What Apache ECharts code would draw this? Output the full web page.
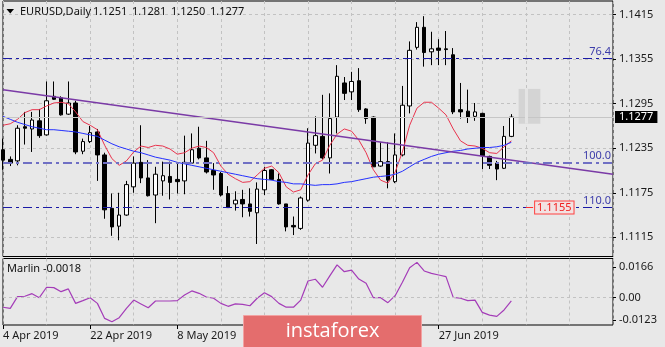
<!DOCTYPE html>
<html>
<head>
<meta charset="utf-8">
<script src="https://cdn.jsdelivr.net/npm/echarts@6/dist/echarts.min.js"></script>
<style>
  html, body { margin: 0; padding: 0; background: #e8e8e8; }
  #chart { width: 665px; height: 347px; }
</style>
</head>
<body>
<div id="chart"></div>
<script>
// EURUSD daily bars
const dates = ['4 Apr 2019','5 Apr 2019','8 Apr 2019','9 Apr 2019','10 Apr 2019','11 Apr 2019','12 Apr 2019','15 Apr 2019','16 Apr 2019','17 Apr 2019','18 Apr 2019','19 Apr 2019','22 Apr 2019','23 Apr 2019','24 Apr 2019','25 Apr 2019','26 Apr 2019','29 Apr 2019','30 Apr 2019',
  '1 May 2019','2 May 2019','3 May 2019','6 May 2019','7 May 2019','8 May 2019','9 May 2019','10 May 2019','13 May 2019','14 May 2019','15 May 2019','16 May 2019','17 May 2019','20 May 2019','21 May 2019','22 May 2019','23 May 2019','24 May 2019','27 May 2019','28 May 2019','29 May 2019','30 May 2019','31 May 2019',
  '3 Jun 2019','4 Jun 2019','5 Jun 2019','6 Jun 2019','7 Jun 2019','10 Jun 2019','11 Jun 2019','12 Jun 2019','13 Jun 2019','14 Jun 2019','17 Jun 2019','18 Jun 2019','19 Jun 2019','20 Jun 2019','21 Jun 2019','24 Jun 2019','25 Jun 2019','26 Jun 2019','27 Jun 2019','28 Jun 2019',
  '1 Jul 2019','2 Jul 2019','3 Jul 2019','4 Jul 2019','5 Jul 2019','8 Jul 2019','9 Jul 2019','10 Jul 2019','11 Jul 2019'];

const opens = [1.1233,1.1220,1.1218,1.1264,1.1261,1.1272,1.1253,1.1305,1.1303,1.1281,
  1.1296,1.1231,1.1244,1.1257,1.1226,1.1154,1.1130,1.1145,1.1183,1.1216,
  1.1195,1.1172,1.1191,1.1197,1.1193,1.1191,1.1215,1.1235,1.1222,1.1205,
  1.1201,1.1174,1.1160,1.1166,1.1160,1.1148,1.1179,1.1206,1.1193,1.1160,
  1.1131,1.1127,1.1165,1.1239,1.1251,1.1222,1.1277,1.1323,1.1311,1.1326,
  1.1288,1.1277,1.1211,1.1217,1.1190,1.1226,1.1292,1.1371,1.1398,1.1365,
  1.1370,1.1369,1.1361,1.1287,1.1285,1.1278,1.1282,1.1224,1.1215,1.1208,
  1.1251];
const highs = [1.1248,1.1224,1.1266,1.1284,1.1284,1.1288,1.1325,1.1325,1.1305,1.1325,
  1.1299,1.1248,1.1265,1.1261,1.1229,1.1174,1.1175,1.1191,1.1224,1.1266,
  1.1219,1.1210,1.1217,1.1217,1.1215,1.1252,1.1255,1.1264,1.1245,1.1215,
  1.1203,1.1184,1.1177,1.1179,1.1181,1.1189,1.1210,1.1207,1.1201,1.1160,
  1.1143,1.1170,1.1262,1.1278,1.1307,1.1309,1.1347,1.1331,1.1338,1.1343,
  1.1289,1.1278,1.1243,1.1243,1.1255,1.1319,1.1379,1.1405,1.1413,1.1392,
  1.1382,1.1393,1.1370,1.1323,1.1314,1.1296,1.1283,1.1225,1.1218,1.1265,
  1.1281];
const lows = [1.1206,1.1211,1.1212,1.1240,1.1230,1.1249,1.1252,1.1300,1.1279,1.1280,
  1.1227,1.1227,1.1242,1.1191,1.1140,1.1117,1.1111,1.1144,1.1175,1.1188,
  1.1170,1.1134,1.1171,1.1166,1.1174,1.1173,1.1214,1.1220,1.1201,1.1179,
  1.1170,1.1155,1.1151,1.1142,1.1143,1.1106,1.1172,1.1192,1.1159,1.1123,
  1.1118,1.1125,1.1163,1.1228,1.1220,1.1201,1.1255,1.1300,1.1300,1.1284,
  1.1268,1.1210,1.1210,1.1181,1.1188,1.1224,1.1282,1.1368,1.1345,1.1347,
  1.1347,1.1347,1.1281,1.1275,1.1269,1.1272,1.1207,1.1207,1.1192,1.1207,
  1.1250];
const closes = [1.1219,1.1215,1.1262,1.1262,1.1273,1.1252,1.1299,1.1301,1.1280,1.1296,
  1.1230,1.1244,1.1256,1.1226,1.1152,1.1129,1.1145,1.1186,1.1215,1.1195,
  1.1171,1.1200,1.1198,1.1189,1.1190,1.1216,1.1233,1.1222,1.1203,1.1199,
  1.1172,1.1155,1.1165,1.1160,1.1150,1.1180,1.1205,1.1193,1.1160,1.1129,
  1.1129,1.1168,1.1242,1.1252,1.1222,1.1275,1.1332,1.1309,1.1325,1.1287,
  1.1275,1.1210,1.1217,1.1192,1.1226,1.1293,1.1367,1.1398,1.1364,1.1369,
  1.1367,1.1368,1.1284,1.1284,1.1277,1.1284,1.1225,1.1212,1.1207,1.1251,
  1.1277];

// moving averages (fast red, slow blue)
const maFast = [1.1266,1.1268,1.1274,1.1283,1.1287,1.1287,1.1292,1.1296,1.1297,1.1295,
  1.1284,1.1271,1.1266,1.1260,1.1239,1.1221,1.1212,1.1218,1.1230,1.1238,
  1.1236,1.1239,1.1238,1.1234,1.1227,1.1229,1.1235,1.1238,1.1236,1.1229,
  1.1211,1.1200,1.1194,1.1189,1.1190,1.1199,1.1208,1.1211,1.1202,1.1183,
  1.1176,1.1179,1.1199,1.1214,1.1219,1.1239,1.1254,1.1261,1.1258,1.1246,
  1.1229,1.1206,1.1192,1.1188,1.1203,1.1230,1.1266,1.1289,1.1297,1.1297,
  1.1289,1.1280,1.1261,1.1245,1.1239,1.1238,1.1235,1.1229,1.1228,1.1237,
  1.1245];
const maSlow = [1.1278,1.1274,1.1270,1.1267,1.1264,1.1262,1.1260,1.1260,1.1259,1.1258,
  1.1257,1.1255,1.1253,1.1251,1.1246,1.1241,1.1237,1.1234,1.1231,1.1229,
  1.1226,1.1223,1.1221,1.1219,1.1216,1.1214,1.1212,1.1210,1.1208,1.1206,
  1.1204,1.1202,1.1200,1.1198,1.1196,1.1194,1.1193,1.1192,1.1190,1.1189,
  1.1187,1.1187,1.1186,1.1185,1.1186,1.1186,1.1187,1.1189,1.1190,1.1192,
  1.1194,1.1196,1.1197,1.1198,1.1200,1.1204,1.1210,1.1216,1.1220,1.1224,
  1.1227,1.1229,1.1231,1.1232,1.1234,1.1235,1.1236,1.1236,1.1237,1.1239,
  1.1243];

// Marlin oscillator
const marlin = [-0.0052,-0.0058,0.0006,0.0008,0.0022,0.0000,0.0057,0.0055,0.0033,0.0048,
  -0.0031,-0.0016,0.0000,-0.0031,-0.0113,-0.0131,-0.0109,-0.0058,-0.0013,-0.0034,
  -0.0055,-0.0018,-0.0018,-0.0018,-0.0016,0.0015,0.0037,0.0024,0.0004,-0.0003,
  -0.0031,-0.0047,-0.0034,-0.0036,-0.0044,-0.0003,0.0027,0.0006,-0.0031,-0.0052,
  -0.0052,-0.0013,0.0091,0.0101,0.0057,0.0119,0.0179,0.0142,0.0151,0.0102,
  0.0079,0.0000,0.0000,-0.0027,0.0011,0.0084,0.0164,0.0193,0.0146,0.0133,
  0.0124,0.0115,0.0002,-0.0003,-0.0016,-0.0013,-0.0080,-0.0095,-0.0102,-0.0067,
  -0.0018];

// axis ticks
const priceTicks = [1.1115, 1.1175, 1.1235, 1.1295, 1.1355, 1.1415];
const marlinTicks = [-0.0123, 0, 0.0166];

// chart objects
const trendBars = [0, 84];
const trendPrices = [1.1314, 1.1200];
const fibLabels = ['76.4', '100.0', '110.0'];
const fibPrices = [1.1356, 1.1216, 1.1155];
const targetPrice = 1.1155;
const targetBars = [72, 73];
const boxBars = [71, 74];
const boxPrices = [1.1315, 1.1268];

const futureSlots = 14;
const categories = dates.concat(new Array(futureSlots).fill(''));
const candles = opens.map((o, i) => [o, closes[i], lows[i], highs[i]]);
const last = opens.length - 1;
const firstSlot = 0;
const lastSlot = categories.length - 1;

const FONT = 'Noto Sans';
const dashDot = [9, 4, 3, 4];

const chart = echarts.init(document.getElementById('chart'), null, { renderer: 'canvas' });

const fibColors = ['#1a1aa6', '#7070c4', '#1a1aa6'];
const fibWidths = [1, 2, 1];

// a horizontal segment across the whole pane at a given price
function levelLine(price, lineStyle, label) {
  return [
    { coord: [firstSlot, price], lineStyle: lineStyle, label: label },
    { coord: [lastSlot, price] }
  ];
}

const option = {
  animation: false,
  backgroundColor: '#e8e8e8',
  textStyle: { fontFamily: FONT },
  grid: [
    { left: 3, top: 1, width: 610, height: 255.5, show: true, borderColor: '#000', borderWidth: 1, backgroundColor: 'transparent' },
    { left: 3, top: 258.5, width: 610, height: 66.5, show: true, borderColor: '#000', borderWidth: 1, backgroundColor: 'transparent' }
  ],
  xAxis: [
    {
      type: 'category', gridIndex: 0, data: categories, boundaryGap: false,
      axisLine: { show: false, onZero: false }, axisTick: { show: false }, axisLabel: { show: false },
      splitLine: { show: true, interval: (i) => i % 6 === 0, lineStyle: { color: '#c2c2c2', type: [3, 3] } }
    },
    {
      type: 'category', gridIndex: 1, data: categories, boundaryGap: false, position: 'bottom',
      axisLine: { show: false, onZero: false },
      axisTick: { show: true, interval: (i) => i % 12 === 0 && i < dates.length, length: 4, lineStyle: { color: '#000' } },
      axisLabel: { show: true, interval: (i) => i % 12 === 0 && i < dates.length, align: 'left', margin: 5,
        fontSize: 11, color: '#1a1a1a', fontFamily: FONT },
      splitLine: { show: true, interval: (i) => i % 6 === 0, lineStyle: { color: '#c2c2c2', type: [3, 3] } }
    }
  ],
  yAxis: [
    {
      type: 'value', gridIndex: 0, position: 'right', min: 1.108912, max: 1.143346,
      axisLine: { show: false },
      axisTick: { show: true, customValues: priceTicks, length: 3, lineStyle: { color: '#000' } },
      axisLabel: { show: true, customValues: priceTicks, formatter: (v) => v.toFixed(4), margin: 6,
        fontSize: 11, color: '#1a1a1a', fontFamily: FONT },
      splitLine: { show: true, lineStyle: { color: '#c2c2c2', type: [3, 3] } }
    },
    {
      type: 'value', gridIndex: 1, position: 'right', min: -0.01491, max: 0.02141,
      axisLine: { show: false },
      axisTick: { show: true, customValues: marlinTicks, length: 3, lineStyle: { color: '#000' } },
      axisLabel: { show: true, customValues: marlinTicks, formatter: (v) => v === 0 ? '0.00' : v.toFixed(4), margin: 6,
        fontSize: 11, color: '#1a1a1a', fontFamily: FONT },
      splitLine: { show: false }
    }
  ],
  series: [
    {
      name: 'EURUSD', type: 'candlestick', xAxisIndex: 0, yAxisIndex: 0,
      data: candles, barWidth: 4, z: 3,
      itemStyle: { color: '#ffffff', color0: '#000000', borderColor: '#000000', borderColor0: '#000000', borderWidth: 1 },
      markArea: {
        silent: true,
        itemStyle: { color: '#d4d4d4' },
        data: [[{ coord: [boxBars[0], boxPrices[0]] }, { coord: [boxBars[1], boxPrices[1]] }]]
      },
      markLine: {
        silent: true, symbol: 'none', animation: false,
        data: [
          // last close
          levelLine(closes[last], { color: '#c6c6c6', width: 1, type: 'solid' },
            { show: true, position: 'end', distance: 2, formatter: closes[last].toFixed(4),
              color: '#fff', backgroundColor: '#000', padding: [1, 4, 0, 4], fontSize: 11, fontFamily: FONT }),
          // fibonacci levels
          ...fibPrices.map((p, k) => levelLine(p,
            { color: fibColors[k], width: fibWidths[k], type: dashDot },
            { show: true, position: 'insideEndTop', distance: [2, 1], formatter: fibLabels[k],
              color: '#3c3caa', fontSize: 11, fontFamily: FONT })),
          // bright stripe inside the box
          [{ coord: [targetBars[0], boxPrices[0]], lineStyle: { color: '#e4e4e4', width: 3, type: 'solid' }, label: { show: false } },
           { coord: [targetBars[0], boxPrices[1]] }],
          // target price tag
          [{ coord: [targetBars[0], targetPrice], lineStyle: { color: '#ff3030', width: 1, type: 'solid' },
             label: { show: true, position: 'end', distance: 2, formatter: targetPrice.toFixed(4),
               color: '#f02020', backgroundColor: '#f2e2e2', borderColor: '#ff4040', borderWidth: 1,
               padding: [1, 2, 0, 2], fontSize: 11, fontFamily: FONT } },
           { coord: [targetBars[1], targetPrice] }]
        ]
      }
    },
    {
      name: 'MA fast', type: 'line', xAxisIndex: 0, yAxisIndex: 0, data: maFast,
      symbol: 'none', z: 4, lineStyle: { color: '#e8344e', width: 1 }
    },
    {
      name: 'MA slow', type: 'line', xAxisIndex: 0, yAxisIndex: 0, data: maSlow,
      symbol: 'none', z: 4, lineStyle: { color: '#2430ff', width: 1 }
    },
    {
      name: 'Trend', type: 'line', xAxisIndex: 0, yAxisIndex: 0,
      data: trendBars.map((b, k) => [b, trendPrices[k]]),
      symbol: 'none', z: 4, lineStyle: { color: '#7a3aa6', width: 1.5 }
    },
    {
      name: 'Marlin', type: 'line', xAxisIndex: 1, yAxisIndex: 1, data: marlin,
      symbol: 'none', z: 4, lineStyle: { color: '#a43cb8', width: 1.2 },
      markLine: {
        silent: true, symbol: 'none', label: { show: false },
        data: [[{ coord: [firstSlot, 0], lineStyle: { color: '#c2c2c2', width: 1, type: [3, 3] } }, { coord: [lastSlot, 0] }]]
      }
    }
  ],
  graphic: [
    { type: 'polygon', shape: { points: [[6.5, 9], [14, 9], [10.25, 13.5]] }, style: { fill: '#000' }, z: 100 },
    { type: 'text', x: 20, y: 12, z: 100,
      style: { text: 'EURUSD,Daily', font: '11px "Noto Sans"', fill: '#111', verticalAlign: 'middle' } },
    ...[opens[last], highs[last], lows[last], closes[last]].map((v, k) => ({
      type: 'text', x: 93 + k * 39, y: 12, z: 100,
      style: { text: v.toFixed(4), font: '11px "Noto Sans"', fill: '#111', verticalAlign: 'middle' }
    })),
    { type: 'text', x: 7, y: 269, z: 100,
      style: { text: 'Marlin ' + marlin[last].toFixed(4), font: '11px "Noto Sans"', fill: '#111', verticalAlign: 'middle' } },
    { type: 'rect', z: 200, shape: { x: 243.5, y: 315.5, width: 178, height: 33 },
      style: { fill: '#e46d6d', stroke: '#f2a2a2', lineWidth: 1 } },
    { type: 'text', z: 201, x: 332.5, y: 331,
      style: { text: 'instaforex', font: '20px "Open Sans"', fill: '#ffffff', align: 'center', verticalAlign: 'middle' } }
  ]
};

chart.setOption(option);
</script>
</body>
</html>
